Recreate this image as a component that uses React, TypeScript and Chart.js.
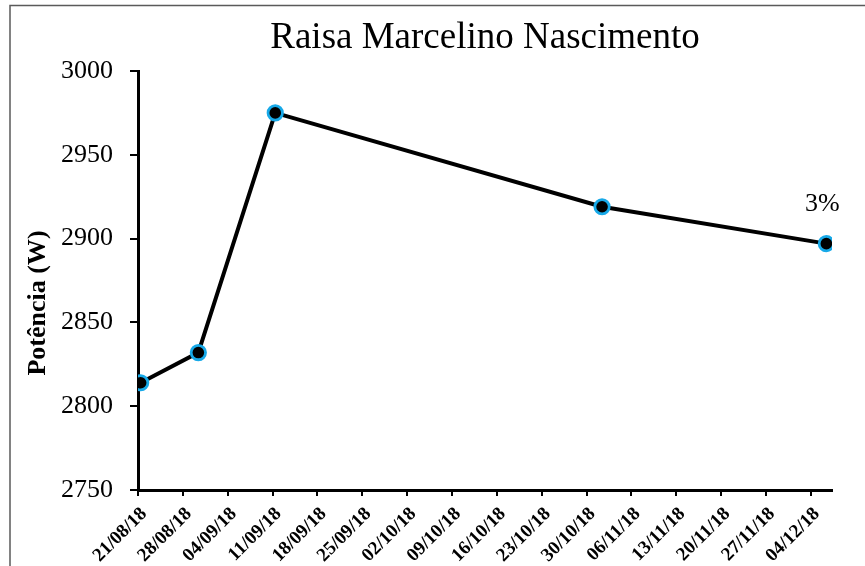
import React, { useEffect, useRef } from "react";
import { Chart, registerables } from "chart.js";

Chart.register(...registerables);

const chartTitle = "Raisa Marcelino Nascimento";
const yAxisTitle = "Potência (W)";
const endLabel = "3%";

const axisStart = "2018-08-21T00:00:00Z";
const measureDates = [
  "2018-08-21T10:00:00Z",
  "2018-08-30T10:00:00Z",
  "2018-09-11T10:00:00Z",
  "2018-11-01T10:00:00Z",
  "2018-12-06T10:00:00Z",
];
const powerValues = [2814, 2832, 2975, 2919, 2897];

const xTickLabels = [
  "21/08/18", "28/08/18", "04/09/18", "11/09/18", "18/09/18", "25/09/18",
  "02/10/18", "09/10/18", "16/10/18", "23/10/18", "30/10/18", "06/11/18",
  "13/11/18", "20/11/18", "27/11/18", "04/12/18",
];
const yMin = 2750;
const yMax = 3000;
const yStep = 50;
const xMaxDays = 108.3;
const xStepDays = 7;

const SERIF = "'Liberation Serif', 'Times New Roman', serif";
const DAY = 86400000;

const dayOffset = (iso: string) =>
  (Date.parse(iso) - Date.parse(axisStart)) / DAY;

const overlayPlugin = {
  id: "overlay",
  afterDraw(chart: any) {
    const { ctx, chartArea } = chart;
    ctx.save();
    // outer frame (top & left edges)
    ctx.strokeStyle = "#5a5a5a";
    ctx.lineWidth = 1.5;
    ctx.beginPath();
    ctx.moveTo(10, 570);
    ctx.lineTo(10, 5.5);
    ctx.lineTo(870, 5.5);
    ctx.stroke();

    // title
    ctx.fillStyle = "#000";
    ctx.font = `37px ${SERIF}`;
    ctx.textAlign = "center";
    ctx.textBaseline = "alphabetic";
    ctx.fillText(chartTitle, (chartArea.left + chartArea.right) / 2, 48);

    // y axis title
    ctx.save();
    ctx.translate(38, 303);
    ctx.rotate(-Math.PI / 2);
    ctx.font = `bold 26px ${SERIF}`;
    ctx.textAlign = "center";
    ctx.textBaseline = "middle";
    ctx.fillText(yAxisTitle, 0, 0);
    ctx.restore();

    // end label
    const meta = chart.getDatasetMeta(0);
    const last = meta.data[meta.data.length - 1];
    if (last) {
      ctx.font = `26px ${SERIF}`;
      ctx.textAlign = "center";
      ctx.textBaseline = "middle";
      ctx.fillText(endLabel, last.x - 4, last.y - 39);
    }
    ctx.restore();
  },
};

export default function App() {
  const canvasRef = useRef<HTMLCanvasElement | null>(null);

  useEffect(() => {
    document.body.style.margin = "0";
    const canvas = canvasRef.current;
    if (!canvas) return;
    const points = measureDates.map((d, i) => ({ x: dayOffset(d), y: powerValues[i] }));
    const chart = new Chart(canvas, {
      type: "line",
      data: {
        datasets: [
          {
            data: points,
            borderColor: "#000",
            borderWidth: 4,
            backgroundColor: "#000",
            pointBackgroundColor: "#000",
            pointBorderColor: "#17a9e8",
            pointBorderWidth: 2.8,
            pointRadius: 7.2,
            tension: 0,
          },
        ],
      },
      options: {
        responsive: false,
        animation: false,
        events: [],
        layout: { padding: { top: 71, right: 33, left: 0, bottom: 0 } },
        plugins: {
          legend: { display: false },
          title: { display: false },
          tooltip: { enabled: false },
        },
        scales: {
          x: {
            type: "linear",
            min: 0,
            max: xMaxDays,
            afterFit: (s: any) => {
              s.height = 76;
            },
            border: { display: true, color: "#000", width: 3 },
            grid: {
              display: true,
              drawOnChartArea: false,
              drawTicks: true,
              tickLength: 6,
              color: "#000",
              lineWidth: 2,
            },
            ticks: {
              stepSize: xStepDays,
              includeBounds: false,
              autoSkip: false,
              minRotation: 45,
              maxRotation: 45,
              padding: 7,
              labelOffset: 6,
              color: "#000",
              font: { family: SERIF, size: 19, weight: "bold" },
              callback: (v: any) => {
                const idx = Math.round(Number(v) / xStepDays);
                return xTickLabels[idx] ?? "";
              },
            },
          },
          y: {
            type: "linear",
            min: yMin,
            max: yMax,
            afterFit: (s: any) => {
              s.width = 138;
            },
            border: { display: true, color: "#000", width: 3 },
            grid: {
              display: true,
              drawOnChartArea: false,
              drawTicks: true,
              tickLength: 8,
              color: "#000",
              lineWidth: 2,
            },
            ticks: {
              stepSize: yStep,
              padding: 17,
              color: "#000",
              font: { family: SERIF, size: 26 },
              callback: (v: any) => String(v),
            },
          },
        },
      },
      plugins: [overlayPlugin],
    } as any);
    return () => chart.destroy();
  }, []);

  return (
    <div style={{ width: 865, height: 566 }}>
      <canvas ref={canvasRef} width={865} height={566} />
    </div>
  );
}
